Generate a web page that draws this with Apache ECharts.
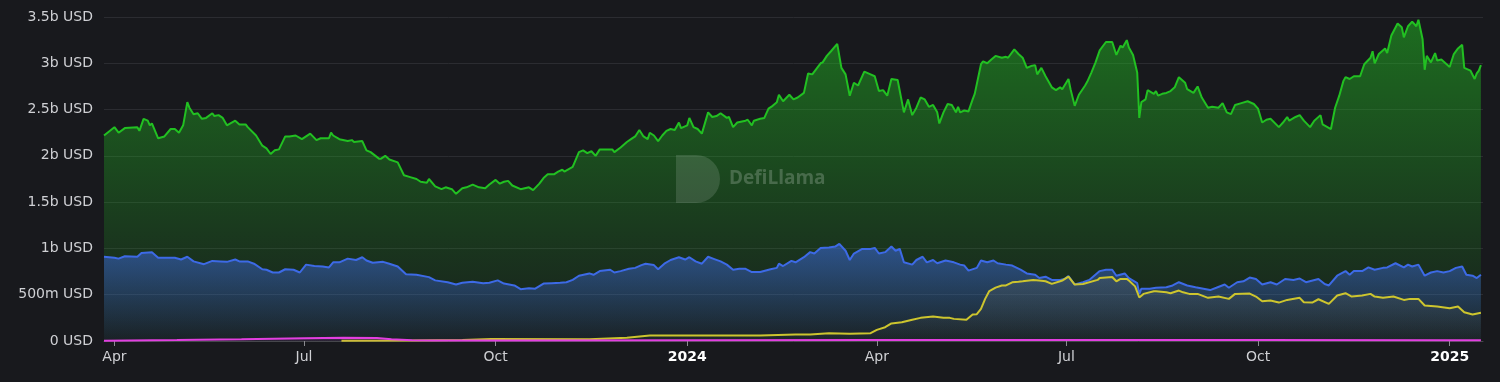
<!DOCTYPE html>
<html>
<head>
<meta charset="utf-8">
<style>
html,body{margin:0;padding:0;background:#18191d;}
#chart{width:1500px;height:382px;}
</style>
<script src="https://cdn.jsdelivr.net/npm/echarts@6/dist/echarts.min.js"></script>
</head>
<body>
<div id="chart"></div>
<script>
// Values in billions of USD
const green = [
['2023-03-27',2.22],['2023-04-01',2.31],['2023-04-03',2.25],['2023-04-06',2.30],['2023-04-12',2.31],['2023-04-13',2.27],
['2023-04-15',2.40],['2023-04-17',2.38],['2023-04-18',2.33],['2023-04-19',2.35],['2023-04-22',2.19],['2023-04-25',2.21],
['2023-04-28',2.29],['2023-04-30',2.29],['2023-05-02',2.25],['2023-05-04',2.33],['2023-05-06',2.58],['2023-05-07',2.52],
['2023-05-09',2.45],['2023-05-11',2.46],['2023-05-13',2.40],['2023-05-15',2.41],['2023-05-18',2.46],['2023-05-19',2.43],
['2023-05-21',2.44],['2023-05-23',2.41],['2023-05-25',2.33],['2023-05-29',2.38],['2023-05-31',2.34],['2023-06-03',2.34],
['2023-06-04',2.31],['2023-06-08',2.22],['2023-06-11',2.11],['2023-06-13',2.08],['2023-06-15',2.02],['2023-06-17',2.06],
['2023-06-19',2.07],['2023-06-22',2.21],['2023-06-24',2.21],['2023-06-27',2.22],['2023-06-30',2.18],['2023-07-04',2.24],
['2023-07-07',2.17],['2023-07-09',2.19],['2023-07-13',2.19],['2023-07-14',2.25],['2023-07-15',2.22],['2023-07-18',2.18],
['2023-07-22',2.16],['2023-07-24',2.17],['2023-07-25',2.15],['2023-07-29',2.16],['2023-07-31',2.06],['2023-08-02',2.04],
['2023-08-06',1.97],['2023-08-07',1.97],['2023-08-09',2.00],['2023-08-11',1.96],['2023-08-15',1.93],['2023-08-18',1.79],
['2023-08-21',1.77],['2023-08-24',1.75],['2023-08-26',1.72],['2023-08-29',1.71],['2023-08-30',1.75],['2023-09-02',1.67],
['2023-09-05',1.64],['2023-09-07',1.66],['2023-09-10',1.64],['2023-09-12',1.59],['2023-09-15',1.65],['2023-09-17',1.66],
['2023-09-20',1.69],['2023-09-23',1.66],['2023-09-26',1.65],['2023-09-28',1.69],['2023-10-01',1.74],['2023-10-03',1.70],
['2023-10-05',1.72],['2023-10-07',1.73],['2023-10-09',1.68],['2023-10-13',1.64],['2023-10-17',1.66],['2023-10-19',1.63],
['2023-10-22',1.70],['2023-10-24',1.76],['2023-10-26',1.80],['2023-10-29',1.80],['2023-10-31',1.83],['2023-11-02',1.85],
['2023-11-03',1.83],['2023-11-07',1.88],['2023-11-10',2.04],['2023-11-12',2.06],['2023-11-14',2.03],['2023-11-16',2.05],
['2023-11-18',2.00],['2023-11-20',2.07],['2023-11-23',2.07],['2023-11-26',2.07],['2023-11-27',2.04],['2023-11-30',2.09],
['2023-12-03',2.15],['2023-12-05',2.18],['2023-12-07',2.21],['2023-12-09',2.28],['2023-12-11',2.21],['2023-12-13',2.18],
['2023-12-14',2.25],['2023-12-16',2.22],['2023-12-18',2.16],['2023-12-20',2.22],['2023-12-22',2.27],['2023-12-24',2.29],
['2023-12-26',2.28],['2023-12-28',2.36],['2023-12-29',2.30],['2024-01-01',2.33],['2024-01-02',2.41],['2024-01-04',2.31],
['2024-01-06',2.29],['2024-01-08',2.24],['2024-01-11',2.47],['2024-01-13',2.42],['2024-01-15',2.43],['2024-01-17',2.46],
['2024-01-20',2.41],['2024-01-21',2.42],['2024-01-23',2.31],['2024-01-25',2.36],['2024-01-29',2.38],['2024-01-30',2.39],
['2024-02-01',2.33],['2024-02-02',2.38],['2024-02-05',2.40],['2024-02-07',2.41],['2024-02-09',2.51],['2024-02-11',2.54],
['2024-02-13',2.58],['2024-02-14',2.66],['2024-02-16',2.59],['2024-02-19',2.66],['2024-02-21',2.61],['2024-02-23',2.63],
['2024-02-26',2.68],['2024-02-28',2.89],['2024-03-01',2.88],['2024-03-03',2.94],['2024-03-05',3.00],['2024-03-06',3.01],
['2024-03-08',3.08],['2024-03-10',3.13],['2024-03-13',3.21],['2024-03-15',2.95],['2024-03-17',2.88],['2024-03-19',2.65],
['2024-03-21',2.79],['2024-03-23',2.76],['2024-03-26',2.91],['2024-03-29',2.88],['2024-03-31',2.86],['2024-04-02',2.70],
['2024-04-04',2.71],['2024-04-06',2.65],['2024-04-08',2.83],['2024-04-11',2.82],['2024-04-14',2.47],['2024-04-16',2.61],
['2024-04-18',2.44],['2024-04-20',2.52],['2024-04-22',2.63],['2024-04-24',2.61],['2024-04-26',2.53],['2024-04-28',2.55],
['2024-04-30',2.47],['2024-05-01',2.35],['2024-05-03',2.47],['2024-05-05',2.56],['2024-05-07',2.55],['2024-05-09',2.47],
['2024-05-10',2.53],['2024-05-11',2.47],['2024-05-13',2.49],['2024-05-15',2.48],['2024-05-17',2.61],['2024-05-18',2.67],
['2024-05-21',2.99],['2024-05-22',3.02],['2024-05-24',3.00],['2024-05-26',3.04],['2024-05-28',3.08],['2024-05-31',3.06],
['2024-06-02',3.07],['2024-06-03',3.06],['2024-06-06',3.15],['2024-06-08',3.10],['2024-06-10',3.06],['2024-06-12',2.95],
['2024-06-14',2.97],['2024-06-16',2.98],['2024-06-17',2.88],['2024-06-19',2.95],['2024-06-21',2.86],['2024-06-24',2.74],
['2024-06-26',2.71],['2024-06-28',2.74],['2024-06-29',2.72],['2024-07-02',2.83],['2024-07-03',2.72],['2024-07-05',2.54],
['2024-07-07',2.66],['2024-07-10',2.76],['2024-07-11',2.80],['2024-07-13',2.90],['2024-07-15',3.01],['2024-07-17',3.14],
['2024-07-20',3.23],['2024-07-23',3.23],['2024-07-25',3.09],['2024-07-27',3.19],['2024-07-28',3.17],['2024-07-30',3.25],
['2024-07-31',3.17],['2024-08-02',3.09],['2024-08-04',2.90],['2024-08-05',2.41],['2024-08-06',2.58],['2024-08-08',2.61],
['2024-08-09',2.71],['2024-08-12',2.67],['2024-08-13',2.70],['2024-08-14',2.65],['2024-08-16',2.67],['2024-08-18',2.68],
['2024-08-20',2.70],['2024-08-22',2.74],['2024-08-24',2.85],['2024-08-27',2.79],['2024-08-28',2.72],['2024-08-31',2.68],
['2024-09-02',2.75],['2024-09-04',2.63],['2024-09-07',2.52],['2024-09-09',2.53],['2024-09-12',2.52],['2024-09-14',2.57],
['2024-09-16',2.47],['2024-09-18',2.45],['2024-09-20',2.55],['2024-09-23',2.57],['2024-09-26',2.59],['2024-09-29',2.56],
['2024-10-01',2.51],['2024-10-03',2.36],['2024-10-05',2.39],['2024-10-07',2.40],['2024-10-11',2.31],['2024-10-13',2.36],
['2024-10-15',2.42],['2024-10-16',2.38],['2024-10-19',2.42],['2024-10-21',2.44],['2024-10-23',2.38],['2024-10-26',2.31],
['2024-10-28',2.38],['2024-10-31',2.44],['2024-11-01',2.34],['2024-11-05',2.29],['2024-11-07',2.52],['2024-11-09',2.65],
['2024-11-11',2.81],['2024-11-12',2.85],['2024-11-14',2.83],['2024-11-16',2.86],['2024-11-19',2.86],['2024-11-21',2.99],
['2024-11-24',3.06],['2024-11-25',3.13],['2024-11-26',3.00],['2024-11-28',3.10],['2024-12-01',3.16],['2024-12-02',3.11],
['2024-12-04',3.30],['2024-12-07',3.43],['2024-12-09',3.39],['2024-12-10',3.28],['2024-12-12',3.40],['2024-12-14',3.45],
['2024-12-16',3.40],['2024-12-17',3.47],['2024-12-19',3.26],['2024-12-20',2.93],['2024-12-21',3.08],['2024-12-23',3.01],
['2024-12-25',3.11],['2024-12-26',3.03],['2024-12-28',3.04],['2024-12-30',3.00],['2025-01-01',2.96],['2025-01-03',3.10],
['2025-01-05',3.16],['2025-01-07',3.20],['2025-01-08',2.95],['2025-01-11',2.92],['2025-01-13',2.83],['2025-01-14',2.89],
['2025-01-15',2.92],['2025-01-16',2.98]
];

const blue = [
['2023-03-27',0.91],['2023-04-01',0.90],['2023-04-03',0.89],['2023-04-06',0.915],['2023-04-12',0.91],['2023-04-14',0.95],
['2023-04-19',0.96],['2023-04-22',0.90],['2023-04-26',0.90],['2023-04-30',0.90],['2023-05-03',0.88],['2023-05-06',0.91],
['2023-05-09',0.86],['2023-05-14',0.83],['2023-05-18',0.865],['2023-05-22',0.86],['2023-05-25',0.855],['2023-05-29',0.88],
['2023-05-31',0.86],['2023-06-04',0.86],['2023-06-07',0.835],['2023-06-11',0.775],['2023-06-13',0.77],['2023-06-16',0.74],
['2023-06-19',0.74],['2023-06-22',0.775],['2023-06-26',0.77],['2023-06-29',0.74],['2023-07-02',0.825],['2023-07-06',0.81],
['2023-07-10',0.805],['2023-07-13',0.795],['2023-07-15',0.85],['2023-07-18',0.85],['2023-07-22',0.89],['2023-07-26',0.875],
['2023-07-29',0.905],['2023-07-31',0.87],['2023-08-03',0.845],['2023-08-08',0.855],['2023-08-11',0.835],['2023-08-15',0.805],
['2023-08-19',0.72],['2023-08-24',0.715],['2023-08-30',0.69],['2023-09-02',0.655],['2023-09-08',0.635],['2023-09-12',0.61],
['2023-09-15',0.63],['2023-09-20',0.64],['2023-09-25',0.625],['2023-09-28',0.63],['2023-10-02',0.655],['2023-10-05',0.62],
['2023-10-10',0.60],['2023-10-13',0.56],['2023-10-17',0.57],['2023-10-20',0.565],['2023-10-24',0.62],['2023-10-28',0.625],
['2023-11-01',0.63],['2023-11-04',0.635],['2023-11-07',0.66],['2023-11-10',0.705],['2023-11-15',0.73],['2023-11-17',0.715],
['2023-11-20',0.755],['2023-11-25',0.77],['2023-11-27',0.74],['2023-11-30',0.755],['2023-12-04',0.78],['2023-12-07',0.79],
['2023-12-10',0.82],['2023-12-12',0.835],['2023-12-16',0.82],['2023-12-18',0.775],['2023-12-21',0.835],['2023-12-24',0.875],
['2023-12-28',0.905],['2023-12-31',0.88],['2024-01-02',0.905],['2024-01-05',0.86],['2024-01-08',0.835],['2024-01-11',0.91],
['2024-01-14',0.885],['2024-01-17',0.86],['2024-01-20',0.825],['2024-01-23',0.77],['2024-01-26',0.78],['2024-01-29',0.78],
['2024-02-01',0.745],['2024-02-05',0.745],['2024-02-10',0.775],['2024-02-13',0.79],['2024-02-14',0.835],['2024-02-16',0.81],
['2024-02-20',0.865],['2024-02-22',0.85],['2024-02-26',0.905],['2024-02-29',0.96],['2024-03-02',0.945],['2024-03-05',1.005],
['2024-03-09',1.01],['2024-03-12',1.02],['2024-03-14',1.05],['2024-03-17',0.975],['2024-03-19',0.875],['2024-03-21',0.945],
['2024-03-25',0.995],['2024-03-29',0.995],['2024-03-31',1.005],['2024-04-02',0.945],['2024-04-05',0.96],['2024-04-08',1.02],
['2024-04-10',0.975],['2024-04-12',0.995],['2024-04-14',0.85],['2024-04-18',0.825],['2024-04-20',0.875],['2024-04-23',0.91],
['2024-04-25',0.85],['2024-04-28',0.875],['2024-04-30',0.84],['2024-05-04',0.87],['2024-05-08',0.85],['2024-05-11',0.825],
['2024-05-13',0.815],['2024-05-15',0.76],['2024-05-19',0.79],['2024-05-21',0.87],['2024-05-24',0.85],['2024-05-27',0.87],
['2024-05-29',0.84],['2024-06-02',0.825],['2024-06-05',0.815],['2024-06-09',0.77],['2024-06-12',0.73],['2024-06-16',0.715],
['2024-06-18',0.68],['2024-06-21',0.695],['2024-06-24',0.66],['2024-06-28',0.66],['2024-06-30',0.67],['2024-07-02',0.70],
['2024-07-05',0.61],['2024-07-09',0.635],['2024-07-12',0.66],['2024-07-17',0.755],['2024-07-20',0.77],['2024-07-23',0.77],
['2024-07-25',0.705],['2024-07-29',0.73],['2024-07-31',0.68],['2024-08-04',0.625],['2024-08-05',0.51],['2024-08-06',0.565],
['2024-08-10',0.565],['2024-08-13',0.575],['2024-08-18',0.58],['2024-08-21',0.60],['2024-08-24',0.635],['2024-08-28',0.60],
['2024-09-01',0.58],['2024-09-08',0.55],['2024-09-11',0.575],['2024-09-15',0.61],['2024-09-17',0.575],['2024-09-21',0.635],
['2024-09-24',0.645],['2024-09-27',0.685],['2024-09-30',0.67],['2024-10-03',0.61],['2024-10-07',0.635],['2024-10-10',0.61],
['2024-10-14',0.67],['2024-10-18',0.66],['2024-10-21',0.675],['2024-10-24',0.635],['2024-10-30',0.67],['2024-11-02',0.615],
['2024-11-04',0.60],['2024-11-08',0.705],['2024-11-12',0.755],['2024-11-14',0.715],['2024-11-16',0.755],['2024-11-20',0.755],
['2024-11-23',0.795],['2024-11-26',0.77],['2024-11-30',0.79],['2024-12-02',0.795],['2024-12-06',0.84],['2024-12-10',0.795],
['2024-12-12',0.825],['2024-12-14',0.805],['2024-12-17',0.825],['2024-12-20',0.705],['2024-12-23',0.74],['2024-12-26',0.755],
['2024-12-29',0.74],['2025-01-01',0.755],['2025-01-04',0.79],['2025-01-07',0.805],['2025-01-09',0.715],['2025-01-12',0.705],
['2025-01-14',0.68],['2025-01-16',0.715]
];

const yellow = [
['2023-07-19',0.004],['2023-08-22',0.006],['2023-09-15',0.012],['2023-09-29',0.022],['2023-11-15',0.02],['2023-12-03',0.035],
['2023-12-14',0.06],['2024-02-05',0.06],['2024-02-22',0.07],['2024-02-29',0.07],['2024-03-09',0.084],['2024-03-19',0.078],
['2024-03-29',0.084],['2024-04-01',0.12],['2024-04-05',0.149],['2024-04-08',0.19],['2024-04-13',0.203],['2024-04-18',0.229],
['2024-04-22',0.25],['2024-04-28',0.264],['2024-05-03',0.25],['2024-05-06',0.25],['2024-05-08',0.239],['2024-05-14',0.229],
['2024-05-17',0.286],['2024-05-19',0.29],['2024-05-21',0.347],['2024-05-22',0.40],['2024-05-23',0.455],['2024-05-25',0.54],
['2024-05-28',0.577],['2024-05-31',0.60],['2024-06-02',0.60],['2024-06-05',0.634],['2024-06-08',0.64],['2024-06-10',0.645],
['2024-06-15',0.66],['2024-06-18',0.653],['2024-06-21',0.645],['2024-06-24',0.617],['2024-06-28',0.645],['2024-06-29',0.653],
['2024-07-02',0.696],['2024-07-05',0.61],['2024-07-09',0.615],['2024-07-16',0.66],['2024-07-17',0.68],['2024-07-23',0.692],
['2024-07-25',0.645],['2024-07-27',0.671],['2024-07-30',0.671],['2024-07-31',0.653],['2024-08-03',0.59],['2024-08-05',0.47],
['2024-08-07',0.509],['2024-08-12',0.537],['2024-08-13',0.537],['2024-08-18',0.526],['2024-08-20',0.516],['2024-08-24',0.545],
['2024-08-26',0.526],['2024-08-29',0.509],['2024-09-02',0.509],['2024-09-07',0.466],['2024-09-12',0.48],['2024-09-17',0.455],
['2024-09-20',0.509],['2024-09-27',0.512],['2024-09-30',0.48],['2024-10-03',0.429],['2024-10-07',0.437],['2024-10-11',0.415],
['2024-10-15',0.444],['2024-10-21',0.466],['2024-10-23',0.419],['2024-10-27',0.415],['2024-10-30',0.451],['2024-11-04',0.401],
['2024-11-08',0.491],['2024-11-12',0.516],['2024-11-15',0.48],['2024-11-20',0.491],['2024-11-24',0.509],['2024-11-26',0.48],
['2024-11-30',0.466],['2024-12-05',0.48],['2024-12-10',0.444],['2024-12-13',0.455],['2024-12-17',0.455],['2024-12-20',0.383],
['2024-12-26',0.372],['2025-01-01',0.354],['2025-01-05',0.372],['2025-01-08',0.311],['2025-01-12',0.286],['2025-01-16',0.305]
];

const magenta = [
['2023-03-27',0.003],['2023-05-01',0.01],['2023-06-01',0.02],['2023-07-01',0.03],['2023-07-20',0.035],['2023-08-05',0.033],
['2023-08-12',0.02],['2023-08-22',0.008],['2023-09-01',0.005],['2023-10-01',0.006],['2024-01-01',0.008],['2024-04-01',0.01],
['2024-07-01',0.012],['2024-10-01',0.01],['2025-01-01',0.008],['2025-01-16',0.008]
];

// x-axis tick dates (quarter starts) and y-axis ticks
const xTickDates = ['2023-04-01','2023-07-01','2023-10-01','2024-01-01','2024-04-01','2024-07-01','2024-10-01','2025-01-01'];
const yTicks = [0, 0.5, 1, 1.5, 2, 2.5, 3, 3.5];
const monthNames = ['Jan','Feb','Mar','Apr','May','Jun','Jul','Aug','Sep','Oct','Nov','Dec'];

const FONT = 'DejaVu Sans';
const toTime = function (s) { return +new Date(s + 'T00:00:00'); };
const xTickValues = xTickDates.map(toTime);
const asTime = function (arr) { return arr.map(function (p) { return [toTime(p[0]), p[1]]; }); };

function grad(r, g, b, a0, a1) {
  return {
    type: 'linear', x: 0, y: 0, x2: 0, y2: 1,
    colorStops: [
      {offset: 0, color: 'rgba(' + r + ',' + g + ',' + b + ',' + a0 + ')'},
      {offset: 1, color: 'rgba(' + r + ',' + g + ',' + b + ',' + a1 + ')'}
    ]
  };
}

function mkSeries(data, color, area, z) {
  return {
    type: 'line', data: asTime(data), showSymbol: false, symbol: 'none',
    lineStyle: {width: 2, color: color}, itemStyle: {color: color},
    areaStyle: {color: area, opacity: 1}, z: z, silent: true
  };
}

const WM = 'rgba(255,255,255,0.13)';
const labelFmt = function (val) {
  const d = new Date(val);
  if (d.getMonth() === 0) return '{y|' + d.getFullYear() + '}';
  return monthNames[d.getMonth()];
};

function buildOption(useCustom) {
  const xAxis = {
    type: useCustom ? 'value' : 'time',
    min: toTime('2023-03-27'), max: toTime('2025-01-17'),
    axisLine: {show: true, onZero: false, lineStyle: {color: '#46474c', width: 1}},
    axisTick: {show: true, length: 5, lineStyle: {color: '#8a8b90'}},
    splitLine: {show: false},
    axisLabel: {
      color: '#cfd0d4', fontSize: 14, fontFamily: FONT, margin: 9,
      hideOverlap: false, showMinLabel: true, showMaxLabel: true,
      formatter: labelFmt,
      rich: {y: {fontWeight: 'bold', color: '#ffffff', fontSize: 14, fontFamily: FONT}}
    }
  };
  if (useCustom) {
    xAxis.axisTick.customValues = xTickValues;
    xAxis.axisLabel.customValues = xTickValues;
  } else {
    xAxis.splitNumber = 8;
  }
  return {
    animation: false,
    backgroundColor: '#18191d',
    grid: {left: 104, right: 17, top: 17, bottom: 41},
    xAxis: xAxis,
    yAxis: {
      type: 'value', min: yTicks[0], max: yTicks[yTicks.length - 1], interval: 0.5,
      axisLine: {show: false}, axisTick: {show: false},
      splitLine: {lineStyle: {color: '#2b2c31', width: 1}},
      axisLabel: {
        color: '#cfd0d4', fontSize: 14, fontFamily: FONT, margin: 11,
        formatter: function (v) {
          if (v === 0) return '0 USD';
          if (v < 1) return Math.round(v * 1000) + 'm USD';
          return v + 'b USD';
        }
      }
    },
    graphic: [
      {type: 'rect', left: 676, top: 155, z: 100, silent: true, shape: {width: 20, height: 48}, style: {fill: WM}},
      {type: 'sector', z: 100, silent: true, shape: {cx: 696, cy: 179, r: 24, startAngle: -Math.PI / 2, endAngle: Math.PI / 2}, style: {fill: WM}},
      {type: 'text', left: 729, top: 169, z: 100, silent: true, style: {text: 'DefiLlama', fill: 'rgba(255,255,255,0.2)', font: 'bold 19px "Open Sans"'}}
    ],
    series: [
      mkSeries(green, '#22c022', grad(34, 192, 34, 0.5, 0.03), 2),
      mkSeries(blue, '#3d6ae6', grad(61, 106, 230, 0.55, 0.04), 3),
      mkSeries(yellow, '#cdc52e', grad(110, 114, 100, 0.24, 0.03), 4),
      mkSeries(magenta, '#e23fe0', grad(226, 63, 224, 0.3, 0.05), 5)
    ]
  };
}

const el = document.getElementById('chart');
let chart = echarts.init(el, null, {renderer: 'canvas'});
try {
  chart.setOption(buildOption(true));
} catch (e) {
  chart.dispose();
  chart = echarts.init(el, null, {renderer: 'canvas'});
  chart.setOption(buildOption(false));
}
</script>
</body>
</html>
